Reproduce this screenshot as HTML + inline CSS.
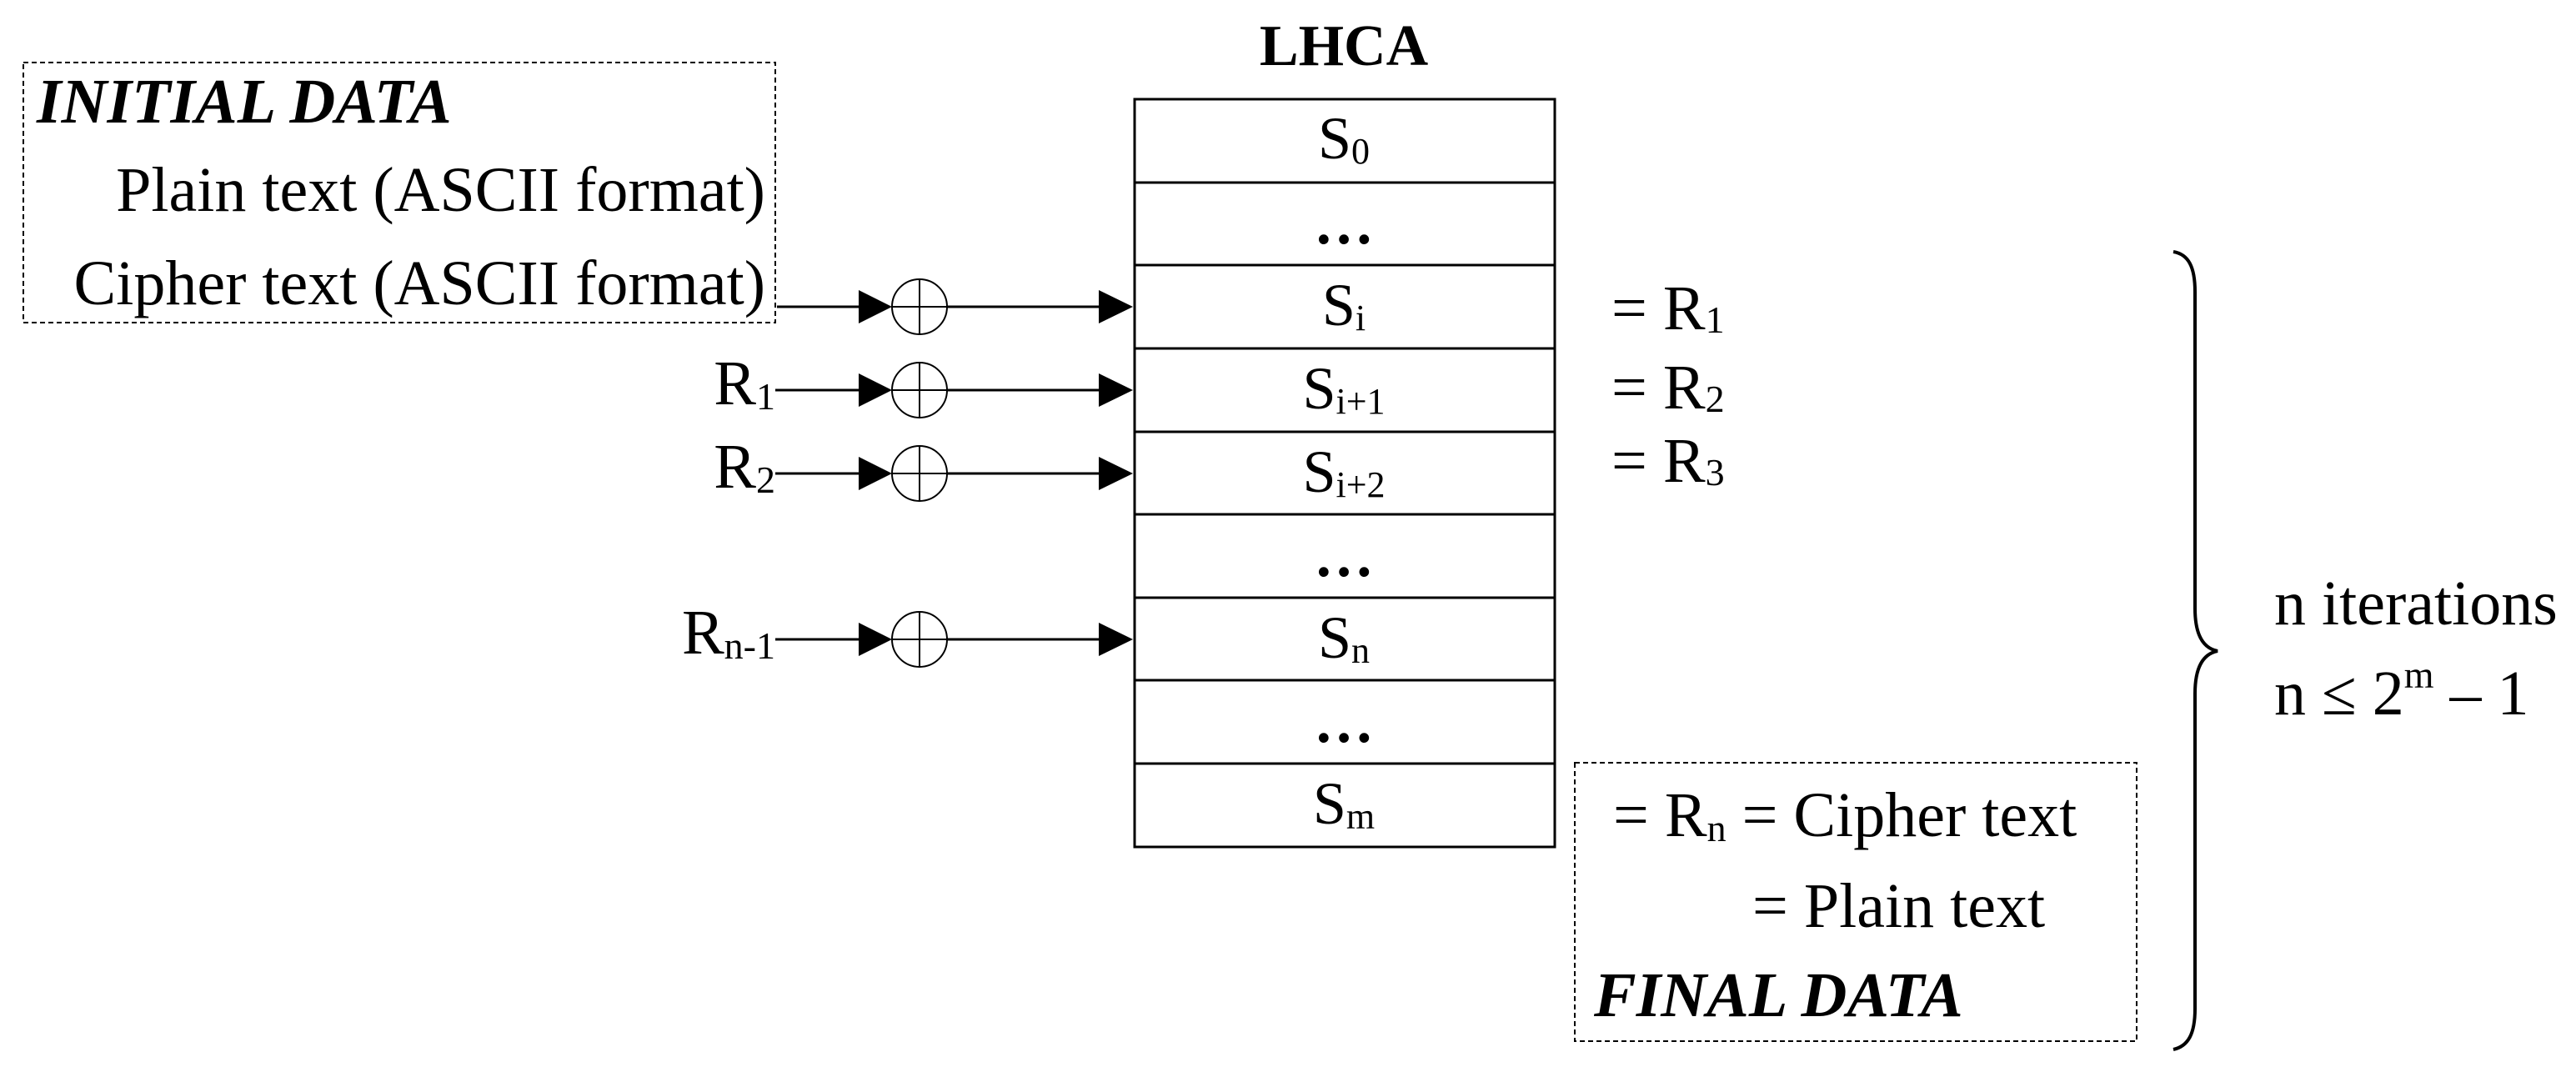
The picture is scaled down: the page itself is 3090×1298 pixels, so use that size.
<!DOCTYPE html>
<html><head><meta charset="utf-8"><style>
html,body{margin:0;padding:0;background:#fff;}
svg{display:block;}
</style></head><body>
<svg width="3090" height="1298" viewBox="0 0 3090 1298" xmlns="http://www.w3.org/2000/svg" font-family="'Liberation Serif', 'Times New Roman', serif" fill="#000">
<text x="1612" y="78" font-size="70" font-weight="bold" text-anchor="middle">LHCA</text>
<g stroke="#000" stroke-width="3" fill="none">
<rect x="1361" y="119" width="504" height="897"/>
<line x1="1361" y1="219" x2="1865" y2="219"/>
<line x1="1361" y1="318" x2="1865" y2="318"/>
<line x1="1361" y1="418" x2="1865" y2="418"/>
<line x1="1361" y1="518" x2="1865" y2="518"/>
<line x1="1361" y1="617" x2="1865" y2="617"/>
<line x1="1361" y1="717" x2="1865" y2="717"/>
<line x1="1361" y1="816" x2="1865" y2="816"/>
<line x1="1361" y1="916" x2="1865" y2="916"/>
</g>
<g font-size="72" text-anchor="middle">
<text x="1612" y="190">S<tspan font-size="44" dy="6">0</tspan></text>
<text x="1612" y="292" font-weight="bold">…</text>
<text x="1612" y="390">S<tspan font-size="44" dy="6">i</tspan></text>
<text x="1612" y="490">S<tspan font-size="44" dy="6">i+1</tspan></text>
<text x="1612" y="590">S<tspan font-size="44" dy="6">i+2</tspan></text>
<text x="1612" y="691" font-weight="bold">…</text>
<text x="1612" y="789">S<tspan font-size="44" dy="6">n</tspan></text>
<text x="1612" y="890" font-weight="bold">…</text>
<text x="1612" y="988">S<tspan font-size="44" dy="6">m</tspan></text>
</g>
<rect x="28" y="75" width="902" height="312" fill="none" stroke="#000" stroke-width="2" stroke-dasharray="6,4"/>
<text x="44" y="147" font-size="76" font-weight="bold" font-style="italic">INITIAL DATA</text>
<text x="918" y="253" font-size="76" text-anchor="end">Plain text (ASCII format)</text>
<text x="918" y="365" font-size="76" text-anchor="end">Cipher text (ASCII format)</text>
<g stroke="#000" stroke-width="3" fill="none">
<line x1="932" y1="368" x2="1040" y2="368"/>
<line x1="1136" y1="368" x2="1325" y2="368"/>
<circle cx="1103" cy="368" r="33" stroke-width="2"/>
<line x1="1070" y1="368" x2="1136" y2="368" stroke-width="2"/>
<line x1="1103" y1="335" x2="1103" y2="401" stroke-width="2"/>
<line x1="930" y1="468" x2="1040" y2="468"/>
<line x1="1136" y1="468" x2="1325" y2="468"/>
<circle cx="1103" cy="468" r="33" stroke-width="2"/>
<line x1="1070" y1="468" x2="1136" y2="468" stroke-width="2"/>
<line x1="1103" y1="435" x2="1103" y2="501" stroke-width="2"/>
<line x1="930" y1="568" x2="1040" y2="568"/>
<line x1="1136" y1="568" x2="1325" y2="568"/>
<circle cx="1103" cy="568" r="33" stroke-width="2"/>
<line x1="1070" y1="568" x2="1136" y2="568" stroke-width="2"/>
<line x1="1103" y1="535" x2="1103" y2="601" stroke-width="2"/>
<line x1="930" y1="767" x2="1040" y2="767"/>
<line x1="1136" y1="767" x2="1325" y2="767"/>
<circle cx="1103" cy="767" r="33" stroke-width="2"/>
<line x1="1070" y1="767" x2="1136" y2="767" stroke-width="2"/>
<line x1="1103" y1="734" x2="1103" y2="800" stroke-width="2"/>
</g>
<g fill="#000">
<polygon points="1030,348 1070,368 1030,388"/>
<polygon points="1318,348 1359,368 1318,388"/>
<polygon points="1030,448 1070,468 1030,488"/>
<polygon points="1318,448 1359,468 1318,488"/>
<polygon points="1030,548 1070,568 1030,588"/>
<polygon points="1318,548 1359,568 1318,588"/>
<polygon points="1030,747 1070,767 1030,787"/>
<polygon points="1318,747 1359,767 1318,787"/>
</g>
<g font-size="76" text-anchor="end">
<text x="930" y="485">R<tspan font-size="46" dy="6">1</tspan></text>
<text x="930" y="585">R<tspan font-size="46" dy="6">2</tspan></text>
<text x="930" y="784">R<tspan font-size="46" dy="6">n-1</tspan></text>
</g>
<g font-size="76">
<text x="1933" y="395">= R<tspan font-size="46" dy="4">1</tspan></text>
<text x="1933" y="490">= R<tspan font-size="46" dy="4">2</tspan></text>
<text x="1933" y="578">= R<tspan font-size="46" dy="4">3</tspan></text>
</g>
<rect x="1889" y="915" width="674" height="334" fill="none" stroke="#000" stroke-width="2" stroke-dasharray="6,4"/>
<text x="1935" y="1003" font-size="76">= R<tspan font-size="46" dy="6">n</tspan><tspan dy="-6"> = Cipher text</tspan></text>
<text x="2102" y="1112" font-size="76">= Plain text</text>
<text x="1912" y="1219" font-size="76" font-weight="bold" font-style="italic">FINAL DATA</text>
<path d="M2607,302 C2625,305 2633,320 2633,350 L2633,730 C2633,765 2645,778 2660,781 C2645,784 2633,797 2633,832 L2633,1210 C2633,1240 2625,1255 2607,1259" fill="none" stroke="#000" stroke-width="4"/>
<text x="2728" y="749" font-size="76">n iterations</text>
<text x="2728" y="857" font-size="76">n ≤ 2<tspan font-size="46" dy="-32">m</tspan><tspan dy="32"> – 1</tspan></text>
</svg>
</body></html>
